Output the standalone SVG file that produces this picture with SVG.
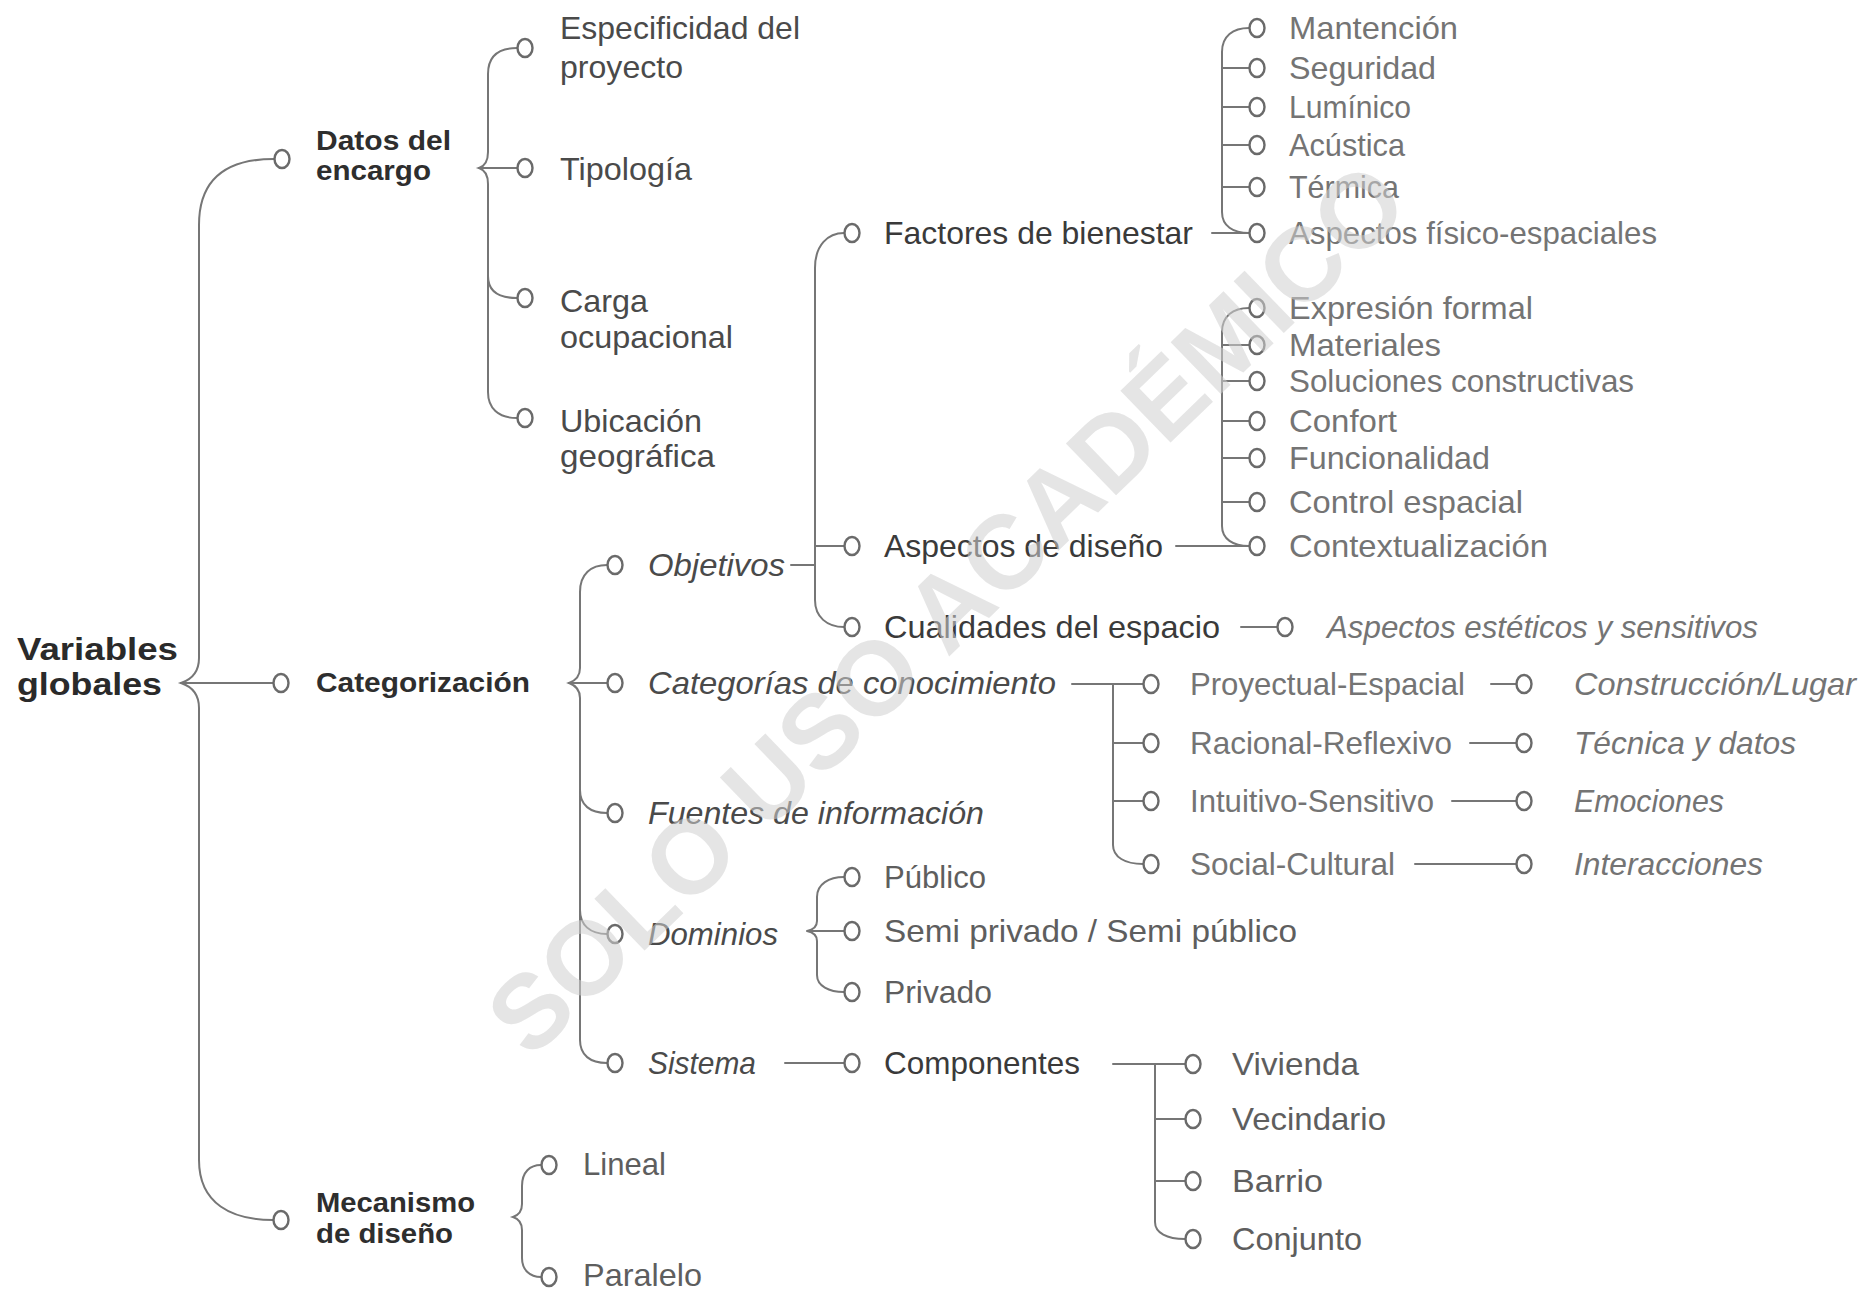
<svg xmlns="http://www.w3.org/2000/svg" width="1863" height="1292" viewBox="0 0 1863 1292">
<style>
.ln{fill:none;stroke:#767676;stroke-width:2;stroke-linecap:round}
.nd{fill:#fff;stroke:#6a6a6a;stroke-width:2.4}
text{font-family:"Liberation Sans",Arial,sans-serif;font-size:32px}
.b{font-weight:bold;font-size:27px;fill:#2e2e2e}
.r{font-weight:bold;font-size:32px;fill:#2a2a2a}
.i{font-style:italic}
.c1{fill:#3a3a3a}
.c2{fill:#4a4a4a}
.c3{fill:#5e5e5e}
.c4{fill:#747474}
.wm{font-weight:bold;font-size:105px;fill:#cfcfcf;fill-opacity:0.55}
</style>
<rect width="1863" height="1292" fill="#fff"/>
<g id="connectors">
<path class="ln" d="M274,159 C235,159 199,172 199,225 L199,658 Q199,677 181,683 Q199,689 199,708 L199,1160 C199,1204 232,1220 273,1220"/>
<path class="ln" d="M181,683 L273,683"/>
<path class="ln" d="M517,48 C499,48 488,56 488,74 L488,152 Q488,165 479,168 Q488,171 488,184 L488,392 C488,408 498,418 517,418"/>
<path class="ln" d="M479,168 L517,168"/>
<path class="ln" d="M488,276 C488,291 498,298 517,298"/>
<path class="ln" d="M541,1165 C530,1165 522,1172 522,1186 L522,1204 Q522,1214 513,1217 Q522,1220 522,1230 L522,1258 C522,1270 530,1277 541,1277"/>
<path class="ln" d="M607,565 C591,565 580,574 580,592 L580,668 Q580,679 569,683 Q580,687 580,698 L580,1040 C580,1055 590,1063 607,1063"/>
<path class="ln" d="M569,683 L607,683"/>
<path class="ln" d="M580,790 C580,805 590,813 607,813"/>
<path class="ln" d="M580,910 C580,925 590,934 607,934"/>
<path class="ln" d="M791,565 L815,565"/>
<path class="ln" d="M844,233 C828,233 815,245 815,268 L815,600 C815,617 827,627 844,627"/>
<path class="ln" d="M815,546 L844,546"/>
<path class="ln" d="M1212,233 L1249,233"/>
<path class="ln" d="M1249,28 C1233,28 1222,36 1222,52 L1222,212 C1222,226 1233,233 1249,233"/>
<path class="ln" d="M1222,68 L1249,68 M1222,107 L1249,107 M1222,145 L1249,145 M1222,187 L1249,187"/>
<path class="ln" d="M1176,546 L1249,546"/>
<path class="ln" d="M1249,308 C1233,308 1222,316 1222,332 L1222,526 C1222,539 1233,546 1249,546"/>
<path class="ln" d="M1222,345 L1249,345 M1222,381 L1249,381 M1222,421 L1249,421 M1222,458 L1249,458 M1222,502 L1249,502"/>
<path class="ln" d="M1241,627 L1277,627"/>
<path class="ln" d="M1072,684 L1143,684"/>
<path class="ln" d="M1113,684 L1113,845 C1113,857 1125,864 1143,864"/>
<path class="ln" d="M1113,743 L1143,743 M1113,801 L1143,801"/>
<path class="ln" d="M1491,684 L1516,684 M1470,743 L1516,743 M1452,801 L1516,801 M1415,864 L1516,864"/>
<path class="ln" d="M844,877 C829,877 817,884 817,897 L817,921 Q817,929 807,931 Q817,933 817,941 L817,975 C817,986 829,992 844,992"/>
<path class="ln" d="M807,931 L844,931"/>
<path class="ln" d="M785,1063 L844,1063"/>
<path class="ln" d="M1113,1064 L1185,1064"/>
<path class="ln" d="M1155,1064 L1155,1222 C1155,1233 1167,1239 1185,1239"/>
<path class="ln" d="M1155,1119 L1185,1119 M1155,1181 L1185,1181"/>
</g>
<g id="n-variables-globales">
<text class="r" x="17" y="660" textLength="161" lengthAdjust="spacingAndGlyphs">Variables</text>
<text class="r" x="17" y="695" textLength="145" lengthAdjust="spacingAndGlyphs">globales</text>
</g>
<g id="n-datos">
<ellipse class="nd" cx="282" cy="159" rx="7.5" ry="9"/>
<text class="b" x="316" y="150" textLength="135" lengthAdjust="spacingAndGlyphs">Datos del</text>
<text class="b" x="316" y="180" textLength="115" lengthAdjust="spacingAndGlyphs">encargo</text>
</g>
<g id="n-categorizacion">
<ellipse class="nd" cx="281" cy="683" rx="7.5" ry="9"/>
<text class="b" x="316" y="692" textLength="214" lengthAdjust="spacingAndGlyphs">Categorización</text>
</g>
<g id="n-mecanismo">
<ellipse class="nd" cx="281" cy="1220" rx="7.5" ry="9"/>
<text class="b" x="316" y="1212" textLength="159" lengthAdjust="spacingAndGlyphs">Mecanismo</text>
<text class="b" x="316" y="1243" textLength="137" lengthAdjust="spacingAndGlyphs">de diseño</text>
</g>
<g id="n-especificidad">
<ellipse class="nd" cx="525" cy="48" rx="7.5" ry="9"/>
<text class="c2" x="560" y="39" textLength="240" lengthAdjust="spacingAndGlyphs">Especificidad del</text>
<text class="c2" x="560" y="78" textLength="123" lengthAdjust="spacingAndGlyphs">proyecto</text>
</g>
<g id="n-tipologia">
<ellipse class="nd" cx="525" cy="168" rx="7.5" ry="9"/>
<text class="c2" x="560" y="180" textLength="132" lengthAdjust="spacingAndGlyphs">Tipología</text>
</g>
<g id="n-carga">
<ellipse class="nd" cx="525" cy="298" rx="7.5" ry="9"/>
<text class="c2" x="560" y="312" textLength="88" lengthAdjust="spacingAndGlyphs">Carga</text>
<text class="c2" x="560" y="348" textLength="173" lengthAdjust="spacingAndGlyphs">ocupacional</text>
</g>
<g id="n-ubicacion">
<ellipse class="nd" cx="525" cy="418" rx="7.5" ry="9"/>
<text class="c2" x="560" y="432" textLength="142" lengthAdjust="spacingAndGlyphs">Ubicación</text>
<text class="c2" x="560" y="467" textLength="155" lengthAdjust="spacingAndGlyphs">geográfica</text>
</g>
<g id="n-lineal">
<ellipse class="nd" cx="549" cy="1165" rx="7.5" ry="9"/>
<text class="c3" x="583" y="1175" textLength="83" lengthAdjust="spacingAndGlyphs">Lineal</text>
</g>
<g id="n-paralelo">
<ellipse class="nd" cx="549" cy="1277" rx="7.5" ry="9"/>
<text class="c3" x="583" y="1286" textLength="119" lengthAdjust="spacingAndGlyphs">Paralelo</text>
</g>
<g id="n-objetivos">
<ellipse class="nd" cx="615" cy="565" rx="7.5" ry="9"/>
<text class="c2 i" x="648" y="576" textLength="137" lengthAdjust="spacingAndGlyphs">Objetivos</text>
</g>
<g id="n-categorias">
<ellipse class="nd" cx="615" cy="683" rx="7.5" ry="9"/>
<text class="c2 i" x="648" y="694" textLength="408" lengthAdjust="spacingAndGlyphs">Categorías de conocimiento</text>
</g>
<g id="n-fuentes">
<ellipse class="nd" cx="615" cy="813" rx="7.5" ry="9"/>
<text class="c2 i" x="648" y="824" textLength="336" lengthAdjust="spacingAndGlyphs">Fuentes de información</text>
</g>
<g id="n-dominios">
<ellipse class="nd" cx="615" cy="934" rx="7.5" ry="9"/>
<text class="c2 i" x="648" y="945" textLength="130" lengthAdjust="spacingAndGlyphs">Dominios</text>
</g>
<g id="n-sistema">
<ellipse class="nd" cx="615" cy="1063" rx="7.5" ry="9"/>
<text class="c2 i" x="648" y="1074" textLength="108" lengthAdjust="spacingAndGlyphs">Sistema</text>
</g>
<g id="n-factores">
<ellipse class="nd" cx="852" cy="233" rx="7.5" ry="9"/>
<text class="c1" x="884" y="244" textLength="309" lengthAdjust="spacingAndGlyphs">Factores de bienestar</text>
</g>
<g id="n-aspectos-diseno">
<ellipse class="nd" cx="852" cy="546" rx="7.5" ry="9"/>
<text class="c1" x="884" y="557" textLength="279" lengthAdjust="spacingAndGlyphs">Aspectos de diseño</text>
</g>
<g id="n-cualidades">
<ellipse class="nd" cx="852" cy="627" rx="7.5" ry="9"/>
<text class="c1" x="884" y="638" textLength="336" lengthAdjust="spacingAndGlyphs">Cualidades del espacio</text>
</g>
<g id="n-publico">
<ellipse class="nd" cx="852" cy="877" rx="7.5" ry="9"/>
<text class="c3" x="884" y="888" textLength="102" lengthAdjust="spacingAndGlyphs">Público</text>
</g>
<g id="n-semi">
<ellipse class="nd" cx="852" cy="931" rx="7.5" ry="9"/>
<text class="c3" x="884" y="942" textLength="413" lengthAdjust="spacingAndGlyphs">Semi privado / Semi público</text>
</g>
<g id="n-privado">
<ellipse class="nd" cx="852" cy="992" rx="7.5" ry="9"/>
<text class="c3" x="884" y="1003" textLength="108" lengthAdjust="spacingAndGlyphs">Privado</text>
</g>
<g id="n-componentes">
<ellipse class="nd" cx="852" cy="1063" rx="7.5" ry="9"/>
<text class="c1" x="884" y="1074" textLength="196" lengthAdjust="spacingAndGlyphs">Componentes</text>
</g>
<g id="n-mantencion"><ellipse class="nd" cx="1257" cy="28" rx="7.5" ry="9"/><text class="c4" x="1289" y="39" textLength="169" lengthAdjust="spacingAndGlyphs">Mantención</text></g>
<g id="n-seguridad"><ellipse class="nd" cx="1257" cy="68" rx="7.5" ry="9"/><text class="c4" x="1289" y="79" textLength="147" lengthAdjust="spacingAndGlyphs">Seguridad</text></g>
<g id="n-luminico"><ellipse class="nd" cx="1257" cy="107" rx="7.5" ry="9"/><text class="c4" x="1289" y="118" textLength="122" lengthAdjust="spacingAndGlyphs">Lumínico</text></g>
<g id="n-acustica"><ellipse class="nd" cx="1257" cy="145" rx="7.5" ry="9"/><text class="c4" x="1289" y="156" textLength="116" lengthAdjust="spacingAndGlyphs">Acústica</text></g>
<g id="n-termica"><ellipse class="nd" cx="1257" cy="187" rx="7.5" ry="9"/><text class="c4" x="1289" y="198" textLength="110" lengthAdjust="spacingAndGlyphs">Térmica</text></g>
<g id="n-fisico"><ellipse class="nd" cx="1257" cy="233" rx="7.5" ry="9"/><text class="c4" x="1289" y="244" textLength="368" lengthAdjust="spacingAndGlyphs">Aspectos físico-espaciales</text></g>
<g id="n-expresion"><ellipse class="nd" cx="1257" cy="308" rx="7.5" ry="9"/><text class="c4" x="1289" y="319" textLength="244" lengthAdjust="spacingAndGlyphs">Expresión formal</text></g>
<g id="n-materiales"><ellipse class="nd" cx="1257" cy="345" rx="7.5" ry="9"/><text class="c4" x="1289" y="356" textLength="152" lengthAdjust="spacingAndGlyphs">Materiales</text></g>
<g id="n-soluciones"><ellipse class="nd" cx="1257" cy="381" rx="7.5" ry="9"/><text class="c4" x="1289" y="392" textLength="345" lengthAdjust="spacingAndGlyphs">Soluciones constructivas</text></g>
<g id="n-confort"><ellipse class="nd" cx="1257" cy="421" rx="7.5" ry="9"/><text class="c4" x="1289" y="432" textLength="108" lengthAdjust="spacingAndGlyphs">Confort</text></g>
<g id="n-funcionalidad"><ellipse class="nd" cx="1257" cy="458" rx="7.5" ry="9"/><text class="c4" x="1289" y="469" textLength="201" lengthAdjust="spacingAndGlyphs">Funcionalidad</text></g>
<g id="n-control"><ellipse class="nd" cx="1257" cy="502" rx="7.5" ry="9"/><text class="c4" x="1289" y="513" textLength="234" lengthAdjust="spacingAndGlyphs">Control espacial</text></g>
<g id="n-contextualizacion"><ellipse class="nd" cx="1257" cy="546" rx="7.5" ry="9"/><text class="c4" x="1289" y="557" textLength="259" lengthAdjust="spacingAndGlyphs">Contextualización</text></g>
<g id="n-esteticos"><ellipse class="nd" cx="1285" cy="627" rx="7.5" ry="9"/><text class="c4 i" x="1327" y="638" textLength="431" lengthAdjust="spacingAndGlyphs">Aspectos estéticos y sensitivos</text></g>
<g id="n-proyectual"><ellipse class="nd" cx="1151" cy="684" rx="7.5" ry="9"/><text class="c4" x="1190" y="695" textLength="275" lengthAdjust="spacingAndGlyphs">Proyectual-Espacial</text></g>
<g id="n-racional"><ellipse class="nd" cx="1151" cy="743" rx="7.5" ry="9"/><text class="c4" x="1190" y="754" textLength="262" lengthAdjust="spacingAndGlyphs">Racional-Reflexivo</text></g>
<g id="n-intuitivo"><ellipse class="nd" cx="1151" cy="801" rx="7.5" ry="9"/><text class="c4" x="1190" y="812" textLength="244" lengthAdjust="spacingAndGlyphs">Intuitivo-Sensitivo</text></g>
<g id="n-social"><ellipse class="nd" cx="1151" cy="864" rx="7.5" ry="9"/><text class="c4" x="1190" y="875" textLength="205" lengthAdjust="spacingAndGlyphs">Social-Cultural</text></g>
<g id="n-construccion"><ellipse class="nd" cx="1524" cy="684" rx="7.5" ry="9"/><text class="c4 i" x="1574" y="695" textLength="282" lengthAdjust="spacingAndGlyphs">Construcción/Lugar</text></g>
<g id="n-tecnica"><ellipse class="nd" cx="1524" cy="743" rx="7.5" ry="9"/><text class="c4 i" x="1574" y="754" textLength="222" lengthAdjust="spacingAndGlyphs">Técnica y datos</text></g>
<g id="n-emociones"><ellipse class="nd" cx="1524" cy="801" rx="7.5" ry="9"/><text class="c4 i" x="1574" y="812" textLength="150" lengthAdjust="spacingAndGlyphs">Emociones</text></g>
<g id="n-interacciones"><ellipse class="nd" cx="1524" cy="864" rx="7.5" ry="9"/><text class="c4 i" x="1574" y="875" textLength="189" lengthAdjust="spacingAndGlyphs">Interacciones</text></g>
<g id="n-vivienda"><ellipse class="nd" cx="1193" cy="1064" rx="7.5" ry="9"/><text class="c3" x="1232" y="1075" textLength="127" lengthAdjust="spacingAndGlyphs">Vivienda</text></g>
<g id="n-vecindario"><ellipse class="nd" cx="1193" cy="1119" rx="7.5" ry="9"/><text class="c3" x="1232" y="1130" textLength="154" lengthAdjust="spacingAndGlyphs">Vecindario</text></g>
<g id="n-barrio"><ellipse class="nd" cx="1193" cy="1181" rx="7.5" ry="9"/><text class="c3" x="1232" y="1192" textLength="91" lengthAdjust="spacingAndGlyphs">Barrio</text></g>
<g id="n-conjunto"><ellipse class="nd" cx="1193" cy="1239" rx="7.5" ry="9"/><text class="c3" x="1232" y="1250" textLength="130" lengthAdjust="spacingAndGlyphs">Conjunto</text></g>
<g id="watermark" transform="translate(946,608) rotate(-44)">
<text class="wm" x="0" y="37" text-anchor="middle">SOLO USO ACADÉMICO</text>
</g>
</svg>
